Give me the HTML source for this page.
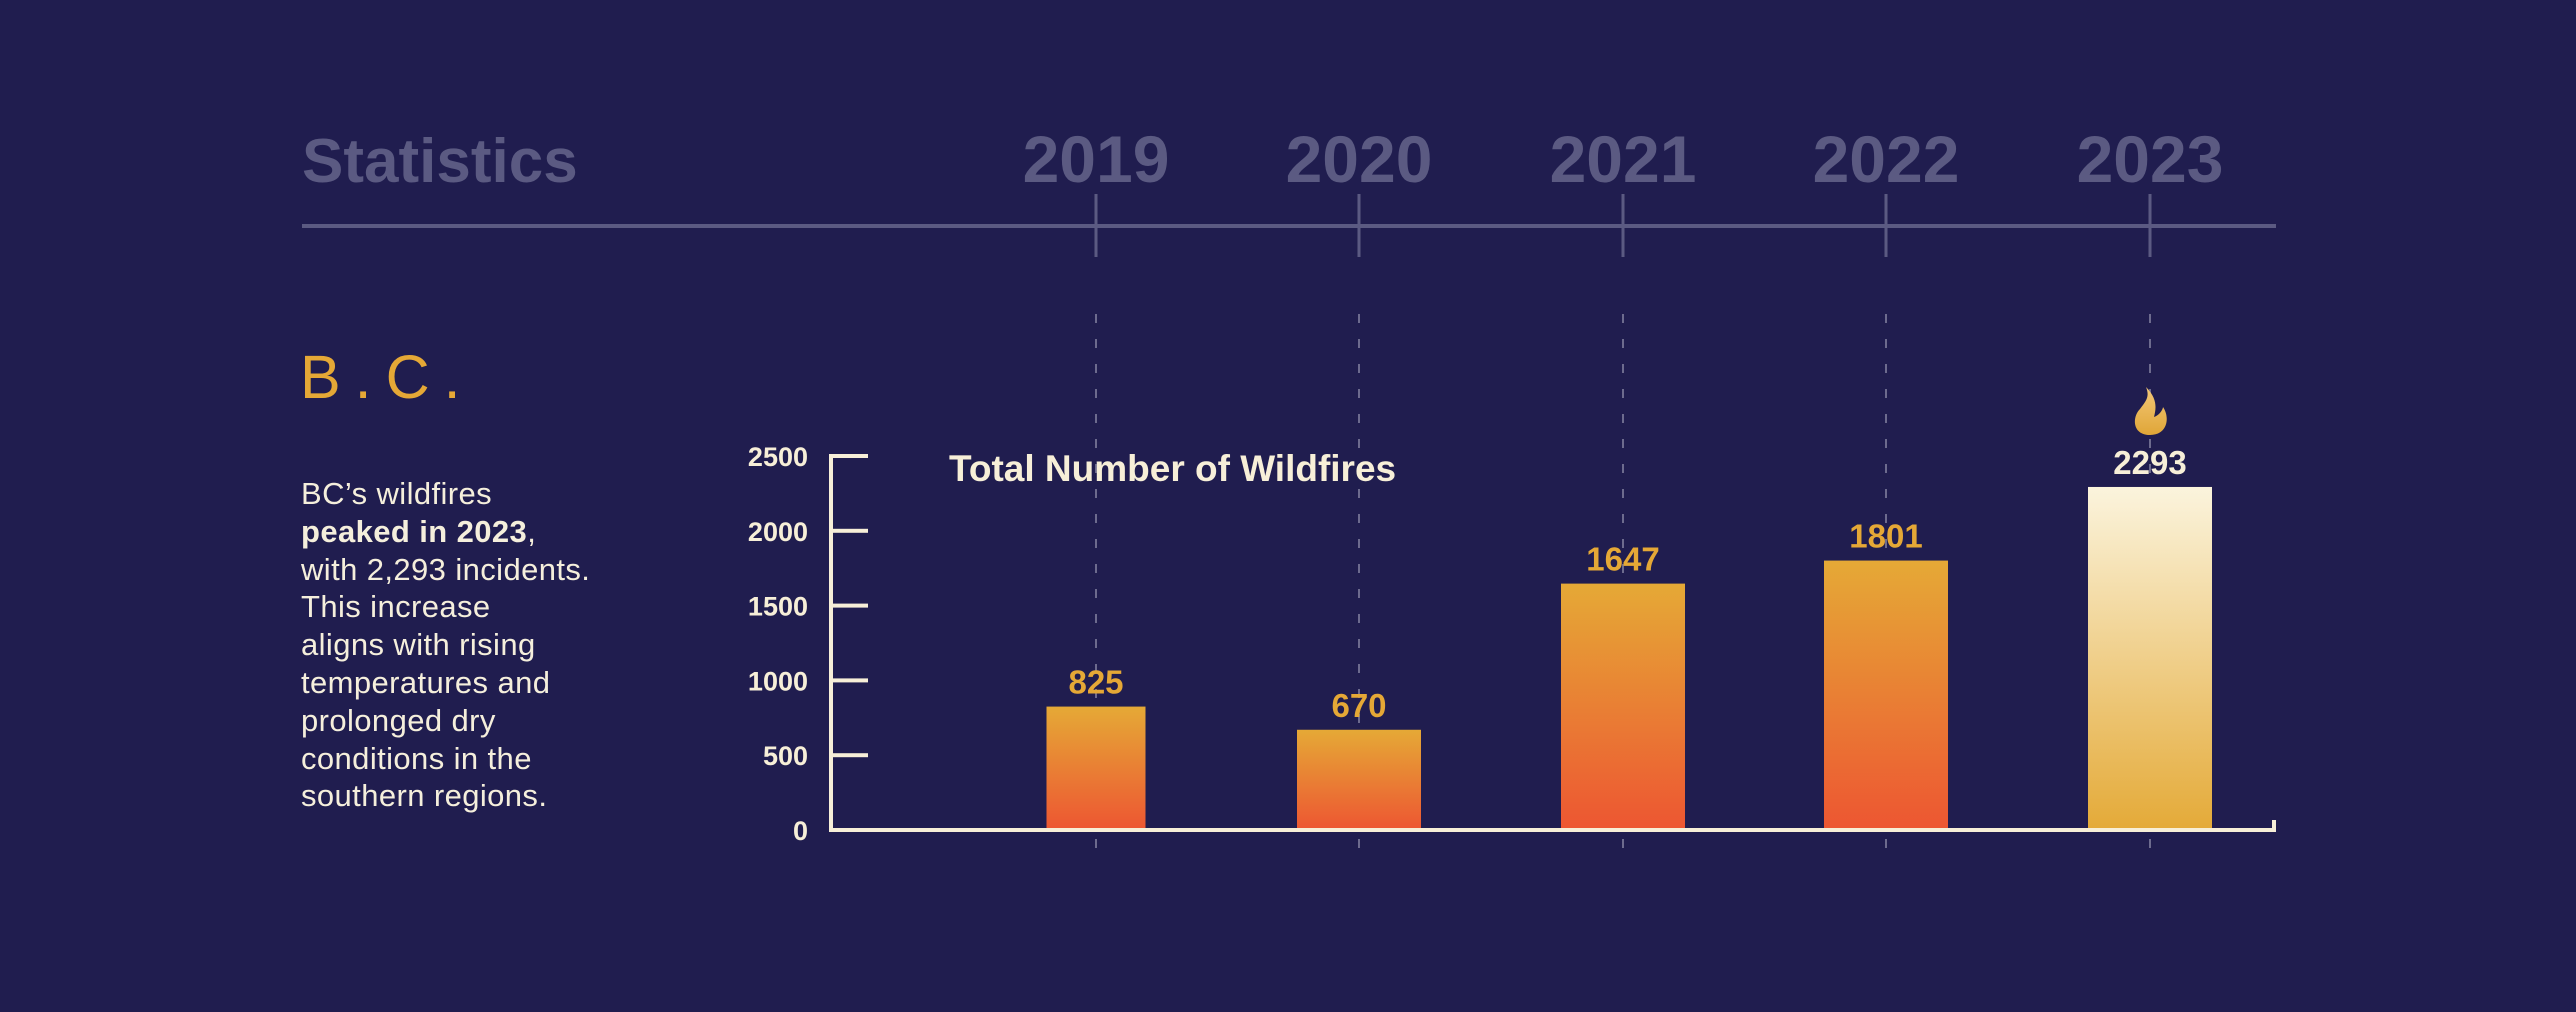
<!DOCTYPE html>
<html><head><meta charset="utf-8"><style>
html,body{margin:0;padding:0;background:#201d4f;}
body{width:2576px;height:1012px;overflow:hidden;position:relative;font-family:"Liberation Sans",sans-serif;}
.p{position:absolute;white-space:nowrap;}
</style></head><body>
<svg id="chart" width="2576" height="1012" viewBox="0 0 2576 1012" style="position:absolute;left:0;top:0">
<defs>
<linearGradient id="gOrange" x1="0" y1="0" x2="0" y2="1"><stop offset="0" stop-color="#e5a936"/><stop offset="1" stop-color="#ed5632"/></linearGradient>
<linearGradient id="gCream" x1="0" y1="0" x2="0" y2="1"><stop offset="0" stop-color="#fbf4dd"/><stop offset="1" stop-color="#e4aa38"/></linearGradient>
<linearGradient id="gFlame" x1="0" y1="0" x2="0" y2="1"><stop offset="0" stop-color="#f3c878"/><stop offset="1" stop-color="#e0a638"/></linearGradient>
</defs>
<text x="302" y="182" font-family="Liberation Sans" font-weight="bold" font-size="62" fill="#5b5a82">Statistics</text>
<rect x="302" y="224" width="1974" height="4" fill="#5b5a82"/>
<g id="years"></g>
<g id="dashes"></g>
<text x="300" y="398" font-family="Liberation Sans" font-size="61" fill="#e5a836" letter-spacing="14">B.C.</text>
<text x="949" y="481" font-family="Liberation Sans" font-weight="bold" font-size="37" fill="#f7efd8">Total Number of Wildfires</text>
<g id="yaxis"></g>
<g id="bars"></g>
<rect x="829" y="828" width="1447" height="4" fill="#f7efd8"/>
<rect x="2272" y="820" width="4" height="12" fill="#f7efd8"/>
<rect x="829" y="454" width="4" height="378" fill="#f7efd8"/>
</svg>
<div class="p" style="left:301px;top:475px;font-size:31px;line-height:37.8px;color:#f5efdc;white-space:normal;width:340px;letter-spacing:0.4px">BC’s wildfires<br><b>peaked in 2023</b>,<br>with 2,293 incidents.<br>This increase<br>aligns with rising<br>temperatures and<br>prolonged dry<br>conditions in the<br>southern regions.</div>
<script>
const years=["2019","2020","2021","2022","2023"];
const values=[825,670,1647,1801,2293];
const yTicks=[0,500,1000,1500,2000,2500];
const NS="http://www.w3.org/2000/svg";
const xCenters=[1096,1359,1623,1886,2150];
const barW=[99,124,124,124,124];
function y(v){return 830-v*(374/2500);}
function x(i){return xCenters[i];}
function mk(tag,attrs,parent){const e=document.createElementNS(NS,tag);for(const k in attrs)e.setAttribute(k,attrs[k]);document.getElementById(parent).appendChild(e);return e;}
years.forEach((yr,i)=>{
  const t=mk('text',{x:x(i),y:182,'text-anchor':'middle','font-family':'Liberation Sans','font-weight':'bold','font-size':'66',fill:'#5b5a82'},'years');
  t.textContent=yr;
  
  
  const tk=mk('rect',{x:x(i)-1.5,y:194,width:3,height:63,fill:'#5b5a82'},'years');
  
  
  const d=mk('line',{x1:x(i),x2:x(i),y1:314,y2:855,stroke:'#6d6b8e','stroke-width':2,'stroke-dasharray':'9 16'},'dashes');
  
  
});
yTicks.forEach(v=>{
  const t=mk('text',{x:808,y:y(v)+10,'text-anchor':'end','font-family':'Liberation Sans','font-weight':'bold','font-size':'27',fill:'#f7efd8'},'yaxis');
  t.textContent=v;
  
  
  if(v>0){
    const r=mk('rect',{x:831,y:y(v)-2,width:37,height:4,fill:'#f7efd8'},'yaxis');
    
    
  }
});
const maxV=Math.max(...values);
values.forEach((v,i)=>{
  const hi=v===maxV;
  const b=mk('rect',{x:x(i)-barW[i]/2,y:y(v),width:barW[i],height:830-y(v),fill:hi?'url(#gCream)':'url(#gOrange)'},'bars');
  
  
  const t=mk('text',{x:x(i),y:y(v)-13,'text-anchor':'middle','font-family':'Liberation Sans','font-weight':'bold','font-size':'33',fill:hi?'#f7efd8':'#e5a836'},'bars');
  t.textContent=v;
  
  
  if(hi){
    const cx=x(i),top=y(v)-100;
    const f=mk('path',{d:`M${cx-4} ${top} C${cx+8} ${top+12} ${cx+6} ${top+22} ${cx+4} ${top+30} C${cx+10} ${top+28} ${cx+13} ${top+22} ${cx+13} ${top+20} C${cx+20} ${top+30} ${cx+18} ${top+48} ${cx} ${top+48} C${cx-18} ${top+48} ${cx-18} ${top+30} ${cx-10} ${top+22} C${cx-4} ${top+14} ${cx} ${top+10} ${cx-4} ${top} Z`,fill:'url(#gFlame)'},'bars');
    
    
  }
});
</script>
</body></html>
